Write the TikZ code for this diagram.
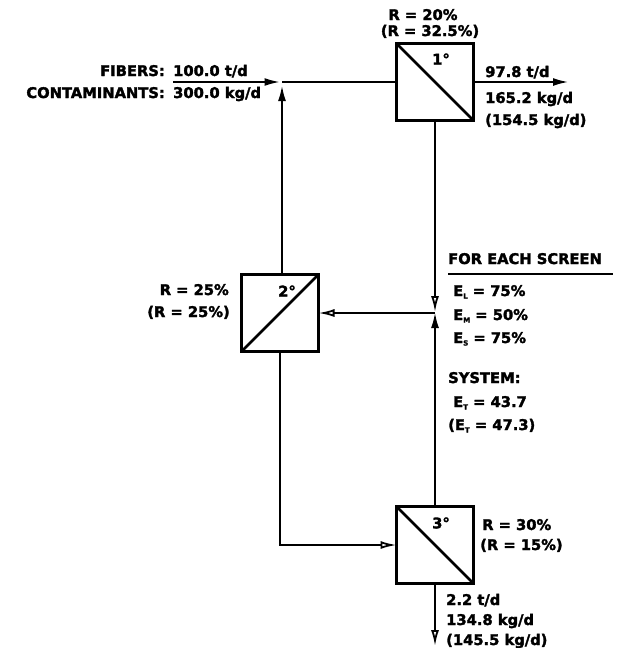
\documentclass[tikz,border=0pt]{standalone}
\usepackage{fontspec}
\setmainfont{DejaVu Sans}[BoldFeatures={FakeBold=2}]
\usetikzlibrary{arrows.meta}
\newcommand{\sbs}[1]{\raisebox{-2.5pt}{\fontsize{7}{7}\selectfont #1}}
\tikzset{
  screen/.style={draw, line width=2.8pt, minimum width=77pt, minimum height=77pt, inner sep=0pt, outer sep=0pt},
  conn/.style={line width=2.4pt},
  arr/.style={conn, -{Latex[length=16pt,width=8pt]}},
  arro/.style={conn, -{Latex[open,length=16pt,width=8pt,line width=1.8pt]}},
  lbl/.style={inner sep=0pt, anchor=base west, font=\bfseries\fontsize{14.7}{17}\selectfont},
  lble/.style={lbl, anchor=base east},
  lblc/.style={lbl, anchor=base},
  deg/.style={inner sep=0pt, font=\bfseries\fontsize{14.7}{17}\selectfont}
}
\begin{document}
\begin{tikzpicture}[x=1pt,y=-1pt]
\useasboundingbox (0,0) rectangle (625,648);
% screens
\node[screen] (b1) at (435,82) {};
\node[screen] (b2) at (280,313) {};
\node[screen] (b3) at (435,545) {};
\draw[line width=2.6pt] (b1.north west) -- (b1.south east);
\draw[line width=2.6pt] (b2.south west) -- (b2.north east);
\draw[line width=2.6pt] (b3.north west) -- (b3.south east);
\node[deg] (d1) at (441,59) {1°};
\node[deg] (d2) at (287,291) {2°};
\node[deg] (d3) at (441,523) {3°};
% coordinates
\coordinate (in) at (173,82);
\coordinate (m) at (282,82);
\coordinate (j) at (435,313);
\coordinate (out1) at (569,82);
\coordinate (out3) at (435,646);
% connectors
\draw[arr, shorten >=1.5pt] (in) -- (m);
\draw[conn] (m) -- (b1.west);
\draw[arr, shorten >=3pt] (b2.north -| m) -- (m);
\draw[arro, shorten >=1pt] (b1.south) -- (j);
\draw[arr, shorten >=-1pt] (b3.north) -- (j);
\draw[arro] (j) -- (b2.east);
\draw[arro] (b2.south) |- (b3.west);
\draw[arr] (b1.east) -- (out1);
\draw[arro] (b3.south) -- (out3);
% labels top
\node[lblc] (r1a) at (423,20) {R = 20\%};
\node[lblc] (r1b) at (430,36) {(R = 32.5\%)};
\node[lble] (f1) at (165,76) {FIBERS:};
\node[lbl] (f2) at (173,76) {100.0 t/d};
\node[lble] (c1) at (165,98) {CONTAMINANTS:};
\node[lbl] (c2) at (173,98) {300.0 kg/d};
\node[lbl] (o1) at (485,77) {97.8 t/d};
\node[lbl] (o2) at (485,103) {165.2 kg/d};
\node[lbl] (o3) at (485,125) {(154.5 kg/d)};
% box 2 labels
\node[lble] (r2a) at (229,295) {R = 25\%};
\node[lble] (r2b) at (230,317) {(R = 25\%)};
% right panel
\node[lbl] (fe) at (448,264) {FOR EACH SCREEN};
\draw[line width=2pt] (448,274) -- (613,274);
\node[lbl] (el) at (453,296) {E\sbs{L} = 75\%};
\node[lbl] (em) at (453,320) {E\sbs{M} = 50\%};
\node[lbl] (es) at (453,343) {E\sbs{S} = 75\%};
\node[lbl] (sy) at (448,383) {SYSTEM:};
\node[lbl] (et1) at (453,407) {E\sbs{T} = 43.7};
\node[lbl] (et2) at (448,430) {(E\sbs{T} = 47.3)};
% box 3 labels
\node[lbl] (r3a) at (482,530) {R = 30\%};
\node[lbl] (r3b) at (480,550) {(R = 15\%)};
\node[lbl] (p1) at (446,605) {2.2 t/d};
\node[lbl] (p2) at (446,625) {134.8 kg/d};
\node[lbl] (p3) at (446,645) {(145.5 kg/d)};
\end{tikzpicture}
\end{document}
